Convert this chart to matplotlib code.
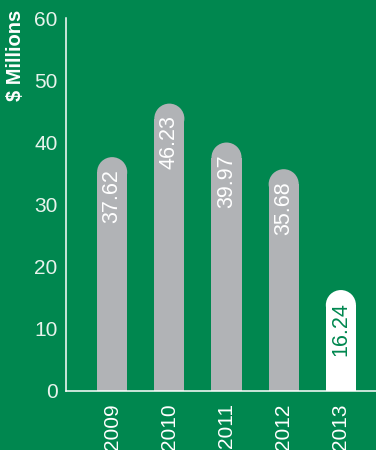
import matplotlib
matplotlib.use("Agg")
import matplotlib.pyplot as plt
from matplotlib.patches import Rectangle, Ellipse

# Revenue per year, in $ millions
years = ["2009", "2010", "2011", "2012", "2013"]
values = [37.62, 46.23, 39.97, 35.68, 16.24]
bar_colors = ["#b1b3b6", "#b1b3b6", "#b1b3b6", "#b1b3b6", "#ffffff"]
label_colors = ["#ffffff", "#ffffff", "#ffffff", "#ffffff", "#00874f"]
yticks = [0, 10, 20, 30, 40, 50, 60]

green = "#00874f"
plt.rcParams["font.family"] = ["Liberation Sans", "DejaVu Sans"]

W, H = 376, 450
fig = plt.figure(figsize=(W / 100, H / 100), dpi=100, facecolor=green)

# axes box in pixels: left 66, right 376, y=0 at 391, y=60 at 18
ax = fig.add_axes([66 / W, (H - 391) / H, (376 - 66) / W, (391 - 18) / H])
ax.set_facecolor(green)

ax.set_xlim(-0.807, 4.614)
ax.set_ylim(0, 60)

# bar width in data units and the matching height of its rounded cap
bar_w = 30 / 57
px_per_y = (391 - 18) / 60
cap_h = 30 / px_per_y

for i, (v, c, lc) in enumerate(zip(values, bar_colors, label_colors)):
    body = v - cap_h / 2
    ax.add_patch(Rectangle((i - bar_w / 2, 0), bar_w, body, color=c, lw=0))
    ax.add_patch(Ellipse((i, body), bar_w, cap_h, color=c, lw=0))
    ax.text(i, v - 12 / px_per_y, f"{v:.2f}", rotation=90, ha="center", va="top",
            color=lc, fontsize=15.5)

for s in ["top", "right"]:
    ax.spines[s].set_visible(False)
for s in ["left", "bottom"]:
    ax.spines[s].set_color("white")
    ax.spines[s].set_linewidth(1.1)

ax.set_yticks(yticks)
ax.set_yticklabels([str(t) for t in yticks], color="#e8f3ec", fontsize=15)
ax.tick_params(axis="y", length=0, pad=6)

ax.set_xticks(range(len(years)))
ax.set_xticklabels(years, rotation=90, color="white", fontsize=15, va="top")
ax.tick_params(axis="x", length=0, pad=9)

fig.text(16 / W, 1 - 10 / H, "$ Millions", rotation=90, ha="center", va="top",
         color="white", fontsize=14.5, fontweight="bold")

fig.savefig("out.png", dpi=100, facecolor=green)
